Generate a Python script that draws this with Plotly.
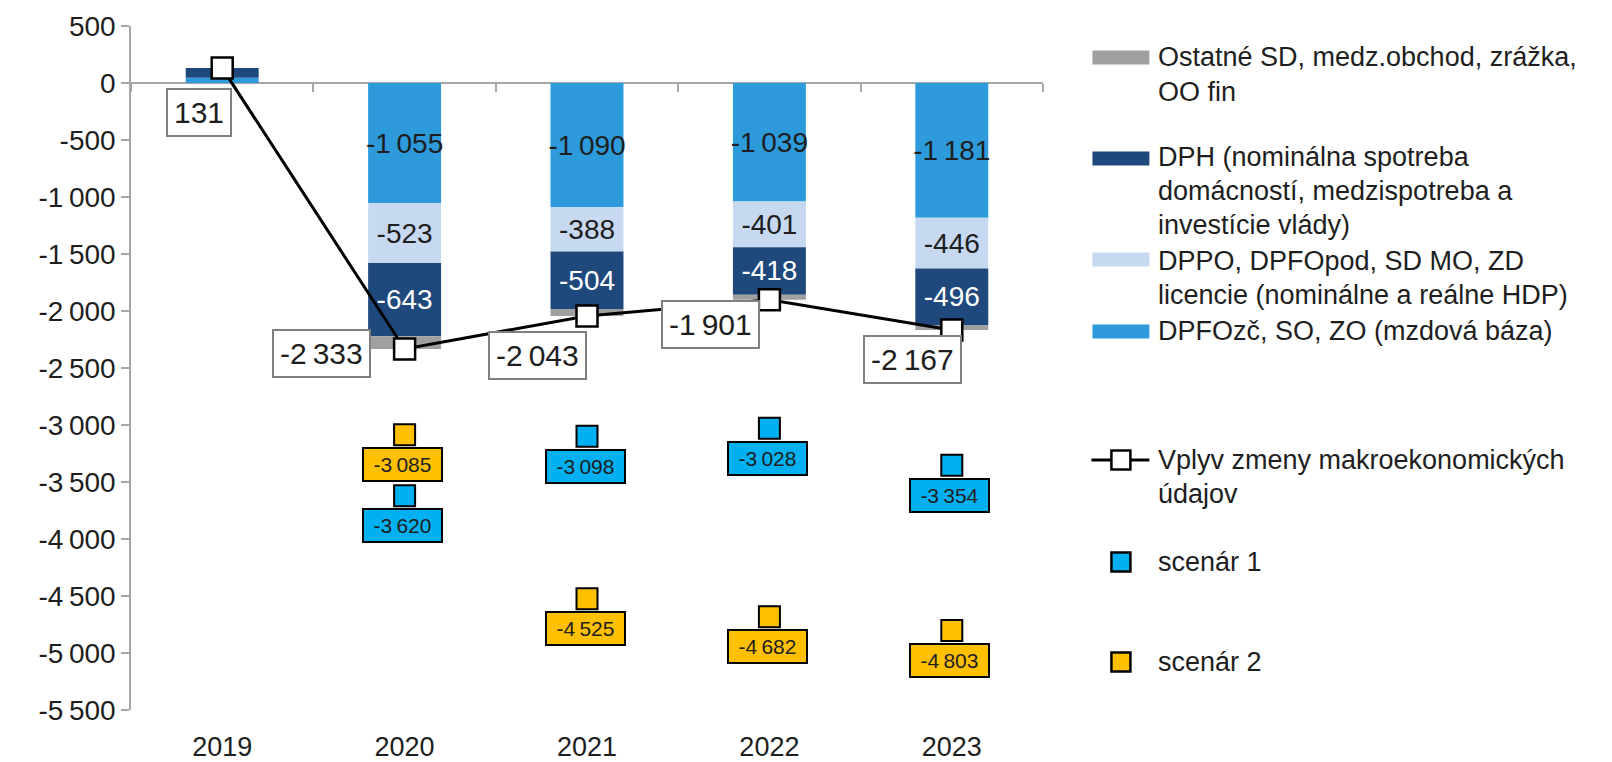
import plotly.graph_objects as go

# ---------------- data ----------------
years = ["2019", "2020", "2021", "2022", "2023"]
dpfo = [45, -1055, -1090, -1039, -1181]      # DPFOzč, SO, ZO (mzdová báza)
dppo = [0, -523, -388, -401, -446]           # DPPO, DPFOpod, SD MO, ZD licencie
dph = [86, -643, -504, -418, -496]           # DPH
ostatne = [0, -112, -61, -43, -44]           # Ostatné SD, medz.obchod, zrážka, OO fin
total = [131, -2333, -2043, -1901, -2167]    # Vplyv zmeny makroekonomických údajov
scen1_years = ["2020", "2021", "2022", "2023"]
scen1 = [-3620, -3098, -3028, -3354]
scen2_years = ["2020", "2021", "2022", "2023"]
scen2 = [-3085, -4525, -4682, -4803]
y_ticks = list(range(500, -5501, -500))

legend_names = {
    "ost": ["Ostatné SD, medz.obchod, zrážka,", "OO fin"],
    "dph": ["DPH (nominálna spotreba", "domácností, medzispotreba a", "investície vlády)"],
    "dppo": ["DPPO, DPFOpod, SD MO, ZD", "licencie (nominálne a reálne HDP)"],
    "dpfo": ["DPFOzč, SO, ZO (mzdová báza)"],
    "line": ["Vplyv zmeny makroekonomických", "údajov"],
    "s1": ["scenár 1"],
    "s2": ["scenár 2"],
}

# ---------------- style ----------------
FONT = "Liberation Sans"
TXT = "#1e1e1e"
C_DPFO = "#2D9BDB"
C_DPPO = "#C6D9F0"
C_DPH = "#1F497D"
C_OST = "#A0A0A0"
C_S1 = "#00B0F0"
C_S2 = "#FFC000"
AX = "#A6A6A6"

W, H = 1612, 762
L, R, T, B = 130.5, 1043.5, 25.6, 709.6   # plot area in pixels
YMIN, YMAX = -5500, 500

line_label_shift = [(-23, -44), (-83, -5), (-50, -40), (-59, -25), (-39, -29)]


def fmt(v):
    return f"{v:,}".replace(",", "\u2009")


def bar_text(vals):
    return [fmt(v) if abs(v) > 200 else "" for v in vals]


def px(x):
    return (x - L) / (R - L)


def py(y):
    return (B - y) / (B - T)


fig = go.Figure()

bar_series = [
    (dpfo, C_DPFO, TXT),
    (dppo, C_DPPO, TXT),
    (dph, C_DPH, "white"),
    (ostatne, C_OST, TXT),
]
for vals, col, tcol in bar_series:
    fig.add_trace(go.Bar(
        x=years, y=vals, marker=dict(color=col, line=dict(width=0)),
        text=bar_text(vals) if col != C_OST else None,
        textposition="inside", insidetextanchor="middle",
        constraintext="none", textangle=0,
        textfont=dict(family=FONT, size=28, color=tcol),
        showlegend=False, hoverinfo="skip",
    ))

fig.add_trace(go.Scatter(
    x=years, y=total, mode="lines+markers",
    line=dict(color="black", width=3),
    marker=dict(symbol="square", size=21, color="white", line=dict(color="black", width=2.5)),
    showlegend=False, hoverinfo="skip",
))

for xs, ys, col in [(scen1_years, scen1, C_S1), (scen2_years, scen2, C_S2)]:
    fig.add_trace(go.Scatter(
        x=xs, y=ys, mode="markers",
        marker=dict(symbol="square", size=21, color=col, line=dict(color="black", width=2)),
        showlegend=False, hoverinfo="skip",
    ))

# invisible trace to carry the zero-line category axis
fig.add_trace(go.Scatter(x=years, y=total, xaxis="x2", mode="lines",
                         line=dict(width=0), opacity=0, showlegend=False, hoverinfo="skip"))

annotations = []
# line labels (category index used as x position on the category axis)
for yr, v, (dx, dy) in zip(years, total, line_label_shift):
    annotations.append(dict(
        x=years.index(yr), y=v, xref="x", yref="y", text=fmt(v), showarrow=False,
        xshift=dx, yshift=dy, bgcolor="white", bordercolor="#7F7F7F",
        borderwidth=2, borderpad=6, font=dict(family=FONT, size=30, color=TXT),
    ))
# scenario labels
for xs, ys, col in [(scen1_years, scen1, C_S1), (scen2_years, scen2, C_S2)]:
    for yr, v in zip(xs, ys):
        annotations.append(dict(
            x=years.index(yr), y=v, xref="x", yref="y", text=fmt(v), showarrow=False,
            xshift=-2, yshift=-30, bgcolor=col, bordercolor="black",
            borderwidth=2, borderpad=2, width=73, height=27,
            font=dict(family=FONT, size=21, color=TXT),
        ))

# manual legend (one annotation per text line)
shapes = []
TEXT_X = 1157
legend_rows = [
    ("ost", 57, [57, 92], "bar", C_OST),
    ("dph", 158, [157, 191, 225], "bar", C_DPH),
    ("dppo", 259, [261, 295], "bar", C_DPPO),
    ("dpfo", 331, [331], "bar", C_DPFO),
    ("line", 459.5, [460, 494], "line", None),
    ("s1", 561.7, [561.5], "sq", C_S1),
    ("s2", 661.7, [661.5], "sq", C_S2),
]
for key, sy, tys, kind, col in legend_rows:
    if kind == "bar":
        shapes.append(dict(type="rect", xref="paper", yref="paper",
                           x0=px(1093), x1=px(1150), y0=py(sy - 7), y1=py(sy + 7),
                           fillcolor=col, line=dict(width=0)))
    elif kind == "line":
        shapes.append(dict(type="line", xref="paper", yref="paper",
                           x0=px(1092), x1=px(1150), y0=py(sy), y1=py(sy),
                           line=dict(color="black", width=3)))
        shapes.append(dict(type="rect", xref="paper", yref="paper",
                           x0=px(1112), x1=px(1131), y0=py(sy - 9.5), y1=py(sy + 9.5),
                           fillcolor="white", line=dict(color="black", width=2.5)))
    else:
        shapes.append(dict(type="rect", xref="paper", yref="paper",
                           x0=px(1112), x1=px(1131), y0=py(sy - 9.5), y1=py(sy + 9.5),
                           fillcolor=col, line=dict(color="black", width=2.5)))
    for line_text, ty in zip(legend_names[key], tys):
        annotations.append(dict(
            x=px(TEXT_X), y=py(ty), xref="paper", yref="paper",
            text=line_text, showarrow=False,
            xanchor="left", yanchor="middle", align="left",
            font=dict(family=FONT, size=27, color=TXT),
        ))

fig.update_layout(
    width=W, height=H,
    margin=dict(l=L, r=W - R, t=T, b=H - B, pad=0, autoexpand=False),
    paper_bgcolor="white", plot_bgcolor="white",
    barmode="relative", bargap=0.6,
    hovermode=False,
    font=dict(family=FONT, size=27, color=TXT),
    xaxis=dict(type="category", categoryorder="array", categoryarray=years,
               range=[-0.5, 4.5], showline=False, ticks="", showgrid=False,
               zeroline=False, tickfont=dict(family=FONT, size=27, color=TXT),
               ticklabelstandoff=18, automargin=False),
    xaxis2=dict(type="category", categoryorder="array", categoryarray=years,
                range=[-0.5, 4.5], overlaying="x", anchor="free",
                position=(0 - YMIN) / (YMAX - YMIN), side="bottom",
                showline=True, linecolor=AX, linewidth=1.5,
                ticks="outside", tickson="boundaries", ticklen=8, tickcolor=AX,
                tickwidth=1.5, showticklabels=False, showgrid=False, zeroline=False,
                layer="below traces", automargin=False),
    yaxis=dict(range=[YMIN, YMAX], tickvals=y_ticks, ticktext=[fmt(v) for v in y_ticks],
               showline=True, linecolor=AX, linewidth=1.5, ticks="outside",
               ticklen=8, tickcolor=AX, tickwidth=1.5, showgrid=False, zeroline=False,
               tickfont=dict(family=FONT, size=28, color=TXT), automargin=False),
    annotations=annotations,
    shapes=shapes,
)

fig.write_html("out.html", config={"displayModeBar": False},
               post_script="document.body.style.margin='0';document.body.style.overflow='hidden';")
